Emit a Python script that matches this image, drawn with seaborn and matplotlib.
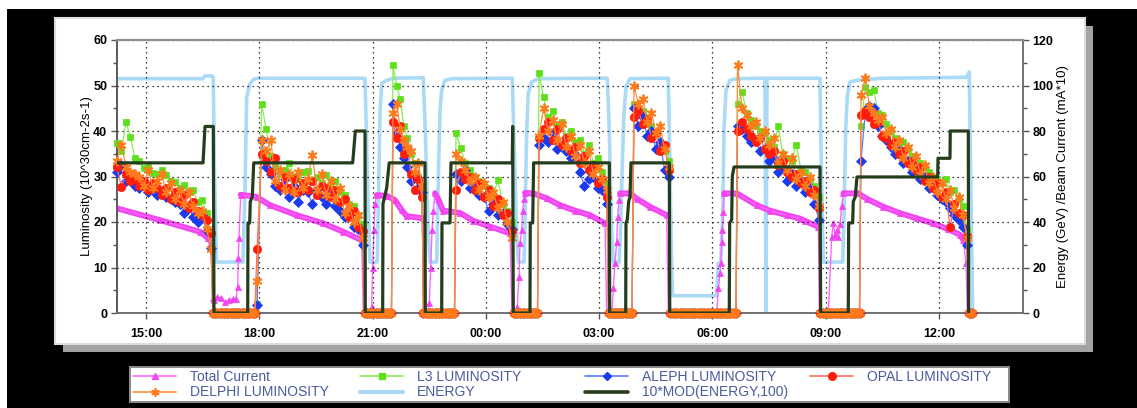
import numpy as np
import matplotlib
matplotlib.use("Agg")
import matplotlib.pyplot as plt
from matplotlib.patches import Rectangle
from matplotlib.lines import Line2D
from matplotlib.ticker import MultipleLocator
import seaborn as sns

# ---------------- data (time in hours from midnight of the first day) ----------------
TICK_HOURS = [15, 18, 21, 24, 27, 30, 33, 36]
TICK_LABELS = ["15:00", "18:00", "21:00", "00:00", "03:00", "06:00", "09:00", "12:00"]

# physics coasts (start, end) and idle periods between them (luminosity reads zero)
FILL_WINDOWS = [(14.232, 16.721), (17.940, 20.747), (21.541, 22.309), (23.210, 24.693),
                (25.408, 27.209), (27.923, 28.850), (30.665, 32.823), (33.936, 36.743)]
IDLE_WINDOWS = [(16.774, 17.880), (20.787, 21.500), (22.349, 23.170), (24.733, 25.368),
                (27.249, 27.871), (28.890, 30.625), (32.863, 33.896), (36.783, 36.876)]

# luminosity readings per fill, 10^30 cm-2 s-1
L3_LUMI = [
    [37.3, 35.5, 42.0, 38.7, 34.0, 33.5, 31.8, 32.0, 30.8, 30.5, 31.5, 30.4, 29.0, 28.8, 27.5, 28.2, 26.5, 27.0, 24.5, 24.8, 21.9, 17.5],
    [2.0, 45.9, 40.4, 34.5, 32.0, 30.5, 31.5, 33.0, 30.0, 29.5, 31.0, 31.3, 29.0, 30.0, 28.5, 30.4, 28.3, 29.0, 26.5, 26.0, 24.0, 23.5, 21.5, 19.5],
    [54.4, 50.0, 47.0, 41.0, 38.5, 35.0, 33.0, 30.0, 27.0],
    [39.5, 36.2, 33.0, 31.5, 30.0, 29.0, 28.0, 27.5, 26.0, 29.2, 24.0, 22.5, 20.0],
    [52.7, 47.5, 43.0, 44.5, 41.0, 42.0, 39.0, 40.0, 37.5, 38.0, 35.0, 37.0, 33.0, 34.0, 31.0, 28.5],
    [46.0, 45.0, 44.5, 43.0, 41.0, 39.5, 37.5, 35.5, 33.5],
    [46.0, 48.6, 44.0, 42.5, 41.0, 40.0, 39.5, 38.0, 36.5, 41.0, 35.0, 34.0, 33.5, 37.0, 31.5, 31.0, 29.5, 28.0, 25.5],
    [41.0, 49.7, 48.5, 49.0, 44.0, 43.5, 41.5, 40.0, 38.5, 37.0, 37.6, 36.0, 34.5, 33.5, 33.0, 32.0, 31.0, 30.0, 29.5, 28.5, 29.5, 26.5, 27.0, 25.0, 23.5, 18.5],
]
DELPHI_LUMI = [
    [33.5, 37.0, 32.0, 31.0, 30.5, 29.8, 28.0, 31.5, 27.5, 29.0, 30.5, 26.5, 28.5, 25.0, 27.0, 24.0, 26.5, 23.5, 22.0, 22.5, 18.5, 14.0],
    [7.0, 38.0, 35.5, 38.0, 29.0, 31.5, 27.0, 30.5, 26.5, 31.0, 27.5, 29.5, 34.7, 27.0, 30.5, 26.0, 29.0, 25.0, 27.5, 22.0, 23.5, 20.0, 21.5, 16.5],
    [44.0, 46.0, 40.5, 38.0, 36.5, 35.5, 31.0, 33.0, 28.0],
    [35.0, 33.5, 31.5, 29.0, 30.0, 27.0, 28.5, 25.5, 26.5, 23.0, 24.5, 20.0, 16.5],
    [39.0, 45.0, 40.0, 42.5, 38.0, 41.5, 36.5, 39.0, 34.5, 37.0, 33.0, 35.5, 30.5, 32.0, 29.5, 27.0],
    [50.0, 46.0, 47.0, 42.0, 44.0, 39.5, 41.0, 36.0, 32.0],
    [54.6, 45.0, 43.5, 41.0, 42.0, 38.5, 40.0, 37.0, 38.5, 33.0, 35.0, 31.5, 34.0, 29.5, 31.0, 28.0, 30.0, 26.0, 23.5],
    [48.0, 51.6, 45.5, 44.0, 42.5, 43.0, 39.5, 40.5, 36.5, 38.0, 34.0, 36.5, 32.0, 34.5, 30.5, 32.5, 28.5, 30.0, 26.5, 28.5, 25.0, 27.0, 23.0, 25.5, 21.5, 16.5],
]
OPAL_LUMI = [
    [32.0, 27.7, 30.5, 29.0, 29.5, 28.0, 29.0, 27.0, 28.5, 27.5, 26.0, 27.5, 25.0, 26.5, 24.5, 26.0, 23.0, 24.5, 22.5, 21.5, 20.5, 17.5],
    [14.0, 35.0, 33.5, 31.0, 34.1, 28.0, 30.0, 27.5, 29.5, 26.5, 28.5, 27.0, 29.0, 26.0, 28.0, 27.5, 25.5, 27.0, 24.5, 25.0, 21.0, 22.5, 19.0, 18.0],
    [42.0, 38.5, 41.0, 35.0, 36.0, 30.5, 27.0, 29.5, 25.5],
    [27.0, 31.0, 29.5, 30.0, 27.0, 28.5, 25.5, 27.0, 23.5, 25.0, 21.5, 22.0, 18.0],
    [38.5, 40.5, 42.0, 38.0, 40.5, 37.0, 38.5, 35.5, 36.5, 33.0, 34.5, 31.5, 32.5, 28.5, 29.5, 25.5],
    [43.0, 44.5, 41.5, 42.5, 38.5, 39.5, 35.5, 37.0, 31.5],
    [40.0, 42.0, 40.5, 39.0, 37.5, 38.5, 36.0, 35.0, 35.5, 32.5, 33.5, 31.0, 30.0, 30.5, 28.5, 29.0, 26.5, 27.0, 23.0],
    [43.5, 44.5, 43.0, 41.5, 42.0, 39.0, 38.5, 37.0, 37.5, 35.0, 35.5, 33.0, 33.5, 31.5, 32.0, 29.0, 30.0, 27.5, 28.5, 25.5, 26.5, 18.8, 24.0, 22.0, 21.5, 17.0],
]
ALEPH_LUMI = [
    [31.0, 32.5, 29.0, 29.5, 28.0, 27.5, 28.0, 26.5, 27.0, 26.0, 26.5, 25.5, 25.0, 24.5, 24.0, 22.0, 23.5, 21.0, 20.0, 21.5, 18.0, 14.3],
    [1.7, 38.0, 32.0, 30.5, 28.0, 27.0, 29.5, 25.5, 28.0, 24.5, 27.0, 26.5, 24.0, 27.0, 25.5, 24.0, 26.0, 23.5, 22.5, 21.0, 21.5, 19.0, 18.5, 15.0],
    [46.0, 39.5, 36.5, 34.0, 32.0, 29.0, 30.5, 27.5, 26.5],
    [30.5, 29.0, 31.5, 27.5, 28.0, 26.0, 25.5, 22.5, 24.0, 21.5, 22.0, 19.5, 18.5],
    [37.0, 38.5, 37.5, 39.5, 36.0, 37.0, 35.5, 34.0, 35.0, 31.0, 28.0, 29.5, 30.0, 27.5, 27.0, 24.0],
    [45.0, 41.0, 43.0, 39.0, 40.0, 36.0, 37.5, 31.5, 30.0],
    [41.0, 40.5, 39.0, 37.5, 38.0, 35.5, 36.0, 33.5, 34.0, 31.0, 32.0, 29.0, 30.5, 28.0, 29.0, 26.5, 27.5, 24.0, 20.5],
    [33.5, 44.0, 45.5, 45.0, 41.0, 39.0, 38.0, 36.5, 35.0, 36.0, 33.0, 33.5, 31.0, 31.5, 29.5, 30.0, 27.5, 28.0, 26.0, 25.0, 24.5, 23.0, 21.5, 20.5, 19.0, 15.0],
]

# beam energy, GeV (right scale)
ENERGY_HOURS = [14.232, 16.510, 16.563, 16.750, 16.782, 16.814, 16.867, 17.569, 17.622, 17.667,
                17.754, 17.842, 17.932, 20.800, 20.879, 20.932, 21.126, 21.144, 21.197, 21.242,
                21.374, 21.547, 22.343, 22.397, 22.476, 22.521, 22.699, 22.741, 22.786, 22.831,
                22.918, 23.096, 24.700, 24.738, 24.817, 24.860, 25.011, 25.037, 25.082, 25.124,
                25.214, 25.389, 27.216, 27.270, 27.333, 27.375, 27.534, 27.571, 27.614, 27.659,
                27.712, 27.818, 28.832, 28.859, 28.922, 28.948, 30.114, 30.156, 30.220, 30.273,
                30.307, 30.360, 30.466, 30.644, 31.393, 31.420, 31.446, 32.850, 32.868, 32.921,
                32.937, 33.451, 33.485, 33.530, 33.572, 33.644, 33.821, 34.526, 35.842, 36.734,
                36.803, 36.840, 36.893]
ENERGY_GEV = [103.0, 103.0, 104.2, 104.2, 103.5, 60.0, 22.4, 22.4, 54.0, 95.0,
              100.8, 102.6, 103.2, 103.2, 50.0, 22.4, 22.4, 39.5, 87.8, 100.9,
              102.3, 103.2, 103.4, 80.0, 35.0, 22.4, 22.4, 58.4, 89.0, 98.0,
              102.3, 103.0, 103.2, 80.0, 35.0, 22.4, 22.4, 39.5, 80.4, 96.5,
              101.6, 103.0, 103.2, 80.0, 35.0, 22.4, 22.4, 39.5, 65.7, 87.8,
              99.4, 103.0, 103.2, 80.0, 20.0, 7.6, 7.6, 21.8, 21.8, 42.3,
              80.4, 98.0, 102.3, 103.0, 103.2, 0.0, 103.2, 103.2, 80.0, 35.0,
              22.4, 22.4, 42.3, 80.4, 95.0, 101.6, 102.3, 103.2, 103.4, 103.6,
              106.0, 60.0, 0.0]

# 10*MOD(ENERGY,100) (left scale)
MOD_HOURS = [14.232, 16.510, 16.563, 16.782, 16.801, 17.693, 17.701, 17.746, 17.762, 17.815,
             17.853, 20.474, 20.544, 20.800, 20.808, 21.268, 21.276, 21.374, 21.441, 22.389,
             22.397, 22.831, 22.839, 23.051, 23.077, 24.700, 24.711, 24.727, 25.169, 25.177,
             25.241, 25.266, 27.270, 27.280, 27.704, 27.712, 27.746, 27.783, 27.818, 27.844,
             28.859, 28.870, 30.447, 30.458, 30.511, 30.527, 30.572, 32.850, 32.868, 33.599,
             33.609, 33.715, 33.731, 33.784, 33.829, 35.967, 35.975, 36.292, 36.300, 36.777,
             36.787]
MOD_VALUE = [33.0, 33.0, 41.0, 41.0, 0.0, 0.0, 19.8, 19.8, 24.5, 25.5,
             33.0, 33.0, 40.0, 40.0, 0.0, 0.0, 24.0, 27.5, 33.0, 33.0,
             0.0, 0.0, 19.8, 19.8, 33.0, 33.0, 41.0, 0.0, 0.0, 19.8,
             19.8, 33.0, 33.0, 0.0, 0.0, 19.8, 20.5, 24.5, 25.5, 33.0,
             33.0, 0.0, 0.0, 19.8, 20.5, 30.0, 32.1, 32.1, 0.0, 0.0,
             19.8, 19.8, 24.5, 25.5, 29.9, 29.9, 34.0, 34.0, 40.0, 40.0,
             0.0]

# total beam current, mA*10 (right scale): coast readings per fill
CURRENT_COAST_HOURS = [
    [14.232, 15.371, 16.430, 16.650, 16.720],
    [17.508, 17.932, 18.284, 18.991, 19.695, 20.225, 20.713],
    [21.110, 21.374, 21.594, 21.772, 21.904, 22.343],
    [22.654, 22.741, 22.865, 23.316, 23.668, 24.110, 24.640],
    [25.037, 25.255, 25.612, 25.964, 26.361, 26.758, 27.156],
    [27.553, 27.818, 27.995, 28.347, 28.790],
    [30.307, 30.644, 31.173, 31.525, 31.968, 32.320, 32.453, 32.805],
    [33.468, 33.864, 34.087, 34.526, 34.968, 35.410, 35.850, 36.247, 36.557, 36.644],
]
CURRENT_COAST_VALUES = [
    [46.0, 40.8, 35.7, 32.8, 31.5],
    [52.0, 51.0, 47.4, 43.0, 39.4, 35.7, 32.0],
    [51.8, 51.5, 49.6, 45.2, 42.6, 41.6],
    [52.6, 50.0, 45.0, 44.0, 40.5, 38.0, 35.0],
    [52.8, 52.6, 50.4, 47.4, 45.0, 43.0, 39.4],
    [52.6, 52.6, 50.2, 46.7, 43.0],
    [52.6, 52.6, 47.4, 45.0, 43.0, 41.5, 40.5, 37.9],
    [52.6, 52.6, 50.2, 46.7, 43.9, 41.6, 39.4, 36.8, 34.4, 32.2],
]
# readings during dumps, injection and ramps
CURRENT_IDLE_HOURS = [16.774, 16.801, 16.880, 16.986, 17.092, 17.198, 17.304, 17.383, 17.428, 17.444, 17.463,
                      20.755, 20.932, 20.975, 21.002, 21.038, 21.065,
                      22.415, 22.480, 22.503, 22.540, 22.574, 22.609,
                      24.693, 24.800, 24.833, 24.878, 24.905, 24.949, 24.976, 25.011,
                      27.201, 27.340, 27.375, 27.420, 27.465, 27.492, 27.527,
                      28.832, 29.500, 30.114, 30.156, 30.201, 30.220, 30.246, 30.262, 30.289,
                      32.831, 33.070, 33.160, 33.202, 33.247, 33.292, 33.335, 33.380, 33.424,
                      36.716, 36.750]
CURRENT_IDLE_VALUES = [6.6, 5.5, 7.0, 6.6, 4.8, 5.8, 6.2, 6.0, 11.6, 24.0, 33.0,
                       0.0, 0.0, 2.8, 19.6, 36.4, 48.0,
                       0.0, 0.0, 4.4, 19.6, 36.4, 45.0,
                       0.0, 0.0, 2.8, 16.0, 30.6, 36.4, 45.0, 50.2,
                       0.0, 0.0, 10.8, 22.0, 31.3, 42.3, 49.6,
                       0.0, 0.0, 0.0, 10.8, 17.4, 22.0, 31.3, 36.4, 44.2,
                       0.0, 0.0, 33.5, 39.4, 34.5, 36.4, 33.5, 39.0, 47.0,
                       22.0, 0.0]

# ---------------- styling ----------------
sns.set_style("ticks")
plt.rcParams["font.family"] = ["Liberation Sans", "DejaVu Sans"]

W, H = 1137, 408
fig = plt.figure(figsize=(W / 100, H / 100), dpi=100, facecolor="black")


def fx(px):
    return px / W


def fy(py):
    return 1 - py / H


def frect(x0, y0, x1, y1, **kw):
    r = Rectangle((fx(x0), fy(y1)), fx(x1) - fx(x0), fy(y0) - fy(y1),
                  transform=fig.transFigure, **kw)
    fig.add_artist(r)
    return r


# window framing
frect(0, 0, W, 9, facecolor="white", edgecolor="none", zorder=-10)
frect(0, 0, 7, H, facecolor="white", edgecolor="none", zorder=-10)
frect(63, 26, 1093, 352, facecolor="#A3A3A3", edgecolor="none", zorder=-9)
frect(55, 18, 1085, 344, facecolor="white", edgecolor="#DCDCDC", lw=1.5, zorder=-8)
frect(130, 367, 1009, 402, facecolor="white", edgecolor="#8A8A8A", lw=1.4, zorder=-8)

ax1 = fig.add_axes([fx(117), fy(313), fx(1023) - fx(117), fy(40) - fy(313)])
ax2 = ax1.twinx()
ax1.set_zorder(ax2.get_zorder() + 1)
ax1.patch.set_visible(False)
ax2.patch.set_visible(False)

COL_L3 = ("#86EC52", "#5CE01A")
COL_ALEPH = ("#5A78FF", "#1A3AF0")
COL_DELPHI = ("#FF8A3A", "#FF7A1A")
COL_OPAL = ("#FF6E60", "#FF1C0C")
COL_CURRENT = "#F245F2"
COL_ENERGY = "#AADAF6"
COL_MOD = "#253D1D"


def series_from_fills(fills):
    hrs, vals = [], []
    for (a, b), v, (ia, ib) in zip(FILL_WINDOWS, fills, IDLE_WINDOWS):
        hrs.extend(np.linspace(a, b, len(v)))
        vals.extend(v)
        n = int((ib - ia) / 0.06) + 2
        hrs.extend(np.linspace(ia, ib, n))
        vals.extend(np.zeros(n))
    return np.array(hrs), np.array(vals)


# right scale: energy and total current
sns.lineplot(x=ENERGY_HOURS, y=ENERGY_GEV, ax=ax2, color=COL_ENERGY, lw=2.6,
             estimator=None, errorbar=None, sort=False, zorder=2)

for hh, vv in zip(CURRENT_COAST_HOURS, CURRENT_COAST_VALUES):
    sns.lineplot(x=hh, y=vv, ax=ax2, color=COL_CURRENT, lw=4.2, solid_capstyle="round",
                 estimator=None, errorbar=None, sort=False, zorder=3)
cur_h = np.concatenate([np.concatenate(CURRENT_COAST_HOURS), CURRENT_IDLE_HOURS])
cur_v = np.concatenate([np.concatenate(CURRENT_COAST_VALUES), CURRENT_IDLE_VALUES])
order = np.argsort(cur_h)
sns.lineplot(x=cur_h[order], y=cur_v[order], ax=ax2, color="#FF66FF", lw=1.0,
             marker="^", markersize=5, markerfacecolor=COL_CURRENT, markeredgecolor=COL_CURRENT,
             markeredgewidth=0.5, estimator=None, errorbar=None, sort=False, zorder=4)

# left scale: luminosities and the energy-modulo trace
lumi_specs = [
    (L3_LUMI, COL_L3, "s", 5.0, 0.5, 5),
    (ALEPH_LUMI, COL_ALEPH, "D", 4.6, 0.5, 6),
    (OPAL_LUMI, COL_OPAL, "o", 6.0, 0.5, 7),
    (DELPHI_LUMI, COL_DELPHI, (6, 2, 0), 7.0, 1.3, 8),
]
for fills, (lc, mc), mk, ms, mew, z in lumi_specs:
    hh, vv = series_from_fills(fills)
    sns.lineplot(x=hh, y=vv, ax=ax1, color=lc, lw=0.9, marker=mk, markersize=ms,
                 markerfacecolor=mc, markeredgecolor=mc, markeredgewidth=mew,
                 estimator=None, errorbar=None, sort=False, zorder=z, clip_on=False)

sns.lineplot(x=MOD_HOURS, y=MOD_VALUE, ax=ax1, color=COL_MOD, lw=2.3,
             estimator=None, errorbar=None, sort=False, zorder=9)

# axes, ticks, grid
ax1.set_xlim(14.232, 38.226)
ax1.set_ylim(0, 60)
ax2.set_ylim(0, 120)
ax1.set_xticks(TICK_HOURS)
ax1.set_xticklabels(TICK_LABELS)
ax1.yaxis.set_major_locator(MultipleLocator(10))
ax1.yaxis.set_minor_locator(MultipleLocator(5))
ax2.yaxis.set_major_locator(MultipleLocator(20))
ax2.yaxis.set_minor_locator(MultipleLocator(10))

ax1.grid(True, which="major", color="black", linestyle=(0, (1, 3)), lw=0.9)
ax1.tick_params(axis="both", which="major", direction="out", length=4, width=1,
                color="#555555", labelsize=9, labelcolor="black", pad=3)
ax1.tick_params(axis="y", which="minor", direction="out", length=3, width=1, color="#555555")
ax2.tick_params(axis="y", which="major", direction="out", length=4, width=1,
                color="#555555", labelsize=9, labelcolor="black", pad=3)
ax2.tick_params(axis="y", which="minor", direction="out", length=3, width=1, color="#555555")
ax1.tick_params(axis="x", pad=7)
for lbl in ax1.get_xticklabels() + ax1.get_yticklabels() + ax2.get_yticklabels():
    lbl.set_fontweight("bold")

for ax in (ax1, ax2):
    for s in ax.spines.values():
        s.set_color("#6E6E6E")
        s.set_linewidth(1.1)
ax1.spines["top"].set_color("#8F8F8F")
ax1.spines["top"].set_linewidth(1.6)
ax1.spines["left"].set_color("#505050")

ax1.set_xlabel("")
ax1.set_ylabel("Luminosity (10^30cm-2s-1)", fontsize=9.5, color="black")
ax2.set_ylabel("Energy (GeV) /Beam Current (mA*10)", fontsize=9.5, color="black")
ax1.yaxis.set_label_coords(-0.027, 0.5)
ax2.yaxis.set_label_coords(1.037, 0.5)

# legend, four columns
TEXT_BLUE = "#4A5C9C"
h_cur = Line2D([], [], color="#FF66FF", lw=1.2, marker="^", ms=5, mfc=COL_CURRENT, mec=COL_CURRENT)
h_delphi = Line2D([], [], color=COL_DELPHI[0], lw=1.2, marker=(6, 2, 0), ms=6, mec=COL_DELPHI[1], mew=1.2)
h_l3 = Line2D([], [], color=COL_L3[0], lw=1.2, marker="s", ms=5, mfc=COL_L3[1], mec=COL_L3[1])
h_energy = Line2D([], [], color=COL_ENERGY, lw=3)
h_aleph = Line2D([], [], color=COL_ALEPH[0], lw=1.2, marker="D", ms=4.5, mfc=COL_ALEPH[1], mec=COL_ALEPH[1])
h_mod = Line2D([], [], color=COL_MOD, lw=2.6)
h_opal = Line2D([], [], color=COL_OPAL[0], lw=1.2, marker="o", ms=5.5, mfc=COL_OPAL[1], mec=COL_OPAL[1])

columns = [
    (133, [h_cur, h_delphi], ["Total Current", "DELPHI LUMINOSITY"]),
    (360, [h_l3, h_energy], ["L3 LUMINOSITY", "ENERGY"]),
    (585, [h_aleph, h_mod], ["ALEPH LUMINOSITY", "10*MOD(ENERGY,100)"]),
    (810, [h_opal], ["OPAL LUMINOSITY"]),
]
for x0, hs, ls in columns:
    leg = fig.legend(hs, ls, loc="upper left", bbox_to_anchor=(fx(x0), fy(370)),
                     frameon=False, fontsize=10, handlelength=3.1, handletextpad=1.0,
                     labelspacing=0.1, borderpad=0, borderaxespad=0, numpoints=1)
    for t in leg.get_texts():
        t.set_color(TEXT_BLUE)

fig.savefig("out.png", dpi=100, facecolor=fig.get_facecolor())
